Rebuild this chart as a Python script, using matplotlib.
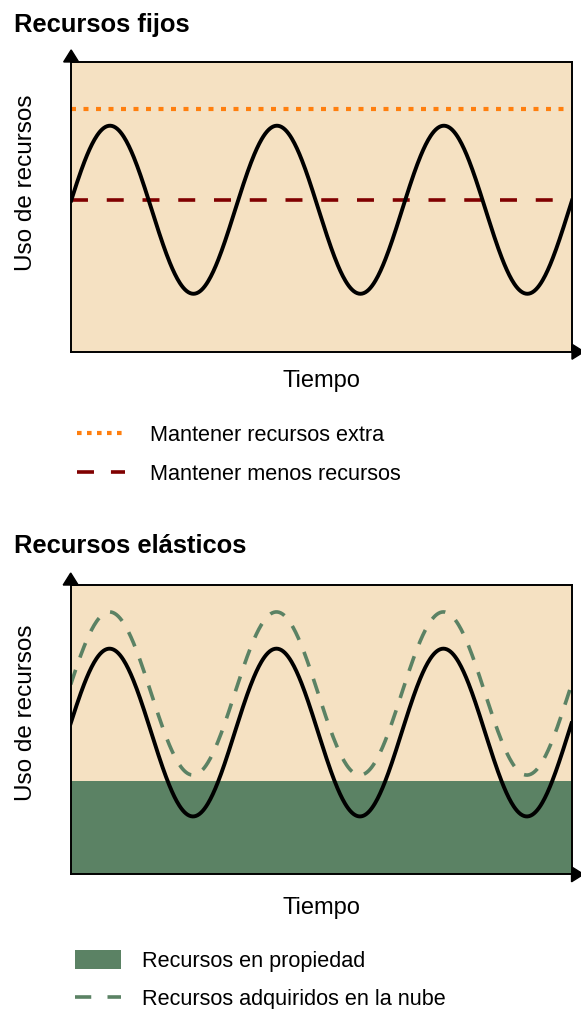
import numpy as np
import matplotlib
matplotlib.use("Agg")
import matplotlib.pyplot as plt
from matplotlib.lines import Line2D
from matplotlib.patches import Patch, Polygon

plt.rcParams["font.family"] = ["Liberation Sans", "DejaVu Sans"]

# schematic demand curve: three full cycles over the time span
CYCLES = 3
PHASE = 0.11
BASE_LEVEL = 0.49
AMPLITUDE = 0.29

# fixed resources
EXTRA_LEVEL = 0.837
LOW_LEVEL = 0.523

# elastic resources
OWNED_LEVEL = 0.324
CLOUD_OFFSET = 0.135
CLOUD_AMPLITUDE = 0.282

TITLES = ["Recursos fijos", "Recursos elásticos"]
Y_LABEL = "Uso de recursos"
X_LABEL = "Tiempo"
FIXED_LABELS = ["Mantener recursos extra", "Mantener menos recursos"]
ELASTIC_LABELS = ["Recursos en propiedad", "Recursos adquiridos en la nube"]

BEIGE = "#F5E1C2"
GREEN = "#5B8264"
ORANGE = "#FF7F0E"
MAROON = "#800000"

W, H = 581, 1009


def demand(t, level, amp):
    return level + amp * np.sin(2 * np.pi * CYCLES * t + PHASE)


def frame(ax):
    ax.set_xlim(0, 1)
    ax.set_ylim(0, 1)
    ax.set_facecolor(BEIGE)
    ax.set_xticks([])
    ax.set_yticks([])
    for spine in ax.spines.values():
        spine.set_linewidth(1.4)
        spine.set_color("black")
    # arrow heads on the axes
    hw_x = 7.5 / (0.862 * W)
    hh_y = 12 / (0.287 * H)
    ax.add_patch(Polygon([(-hw_x, 1), (hw_x, 1), (0, 1 + hh_y)], closed=True,
                         color="black", transform=ax.transAxes, clip_on=False))
    hh_x = 12 / (0.862 * W)
    hw_y = 7.5 / (0.287 * H)
    ax.add_patch(Polygon([(1, -hw_y), (1, hw_y), (1 + hh_x, 0)], closed=True,
                         color="black", transform=ax.transAxes, clip_on=False))


fig = plt.figure(figsize=(W / 100, H / 100), dpi=100)
ax1 = fig.add_axes([0.1225, 0.6514, 0.862, 0.2872])
ax2 = fig.add_axes([0.1217, 0.1335, 0.862, 0.2867])

t = np.linspace(0, 1, 600)

# top panel
frame(ax1)
ax1.axhline(EXTRA_LEVEL, color=ORANGE, lw=3, dashes=(1.2, 1.8))
ax1.axhline(LOW_LEVEL, color=MAROON, lw=2.6, dashes=(4.7, 5.2))
ax1.plot(t, demand(t, BASE_LEVEL, AMPLITUDE), color="black", lw=2.8)

# bottom panel
frame(ax2)
ax2.axhspan(0, OWNED_LEVEL, color=GREEN, lw=0)
ax2.plot(t, demand(t, BASE_LEVEL + CLOUD_OFFSET, CLOUD_AMPLITUDE),
         color=GREEN, lw=2.6, dashes=(4.3, 3.6))
ax2.plot(t, demand(t, BASE_LEVEL, AMPLITUDE), color="black", lw=2.8)

for ax, title, ty, ly, xy in [(ax1, TITLES[0], 32, 182.5, 387),
                              (ax2, TITLES[1], 553, 712.5, 914)]:
    fig.text(14 / W, 1 - ty / H, title, fontsize=18.4, fontweight="bold",
             ha="left", va="baseline")
    fig.text(26 / W, 1 - ly / H, Y_LABEL, fontsize=17.5, rotation=90,
             ha="center", va="center")
    fig.text(321 / W, 1 - xy / H, X_LABEL, fontsize=17, ha="center",
             va="baseline")

fixed_handles = [
    Line2D([], [], color=ORANGE, lw=3, dashes=(1.1, 1.3)),
    Line2D([], [], color=MAROON, lw=2.6, dashes=(4.7, 4.7)),
]
fig.legend(fixed_handles, FIXED_LABELS, loc="upper left",
           bbox_to_anchor=(77 / W, 1 - 425 / H), frameon=False,
           fontsize=15.6, borderpad=0, borderaxespad=0, handlelength=2.2,
           handletextpad=1.15, labelspacing=0.83)

elastic_handles = [
    Patch(facecolor=GREEN, edgecolor="none"),
    Line2D([], [], color=GREEN, lw=2.6, dashes=(4.5, 4.5)),
]
fig.legend(elastic_handles, ELASTIC_LABELS, loc="upper left",
           bbox_to_anchor=(75 / W, 1 - 950 / H), frameon=False,
           fontsize=15.6, borderpad=0, borderaxespad=0, handlelength=2.1,
           handleheight=1.0, handletextpad=1.0, labelspacing=0.74)

fig.savefig("out.png", dpi=100)
